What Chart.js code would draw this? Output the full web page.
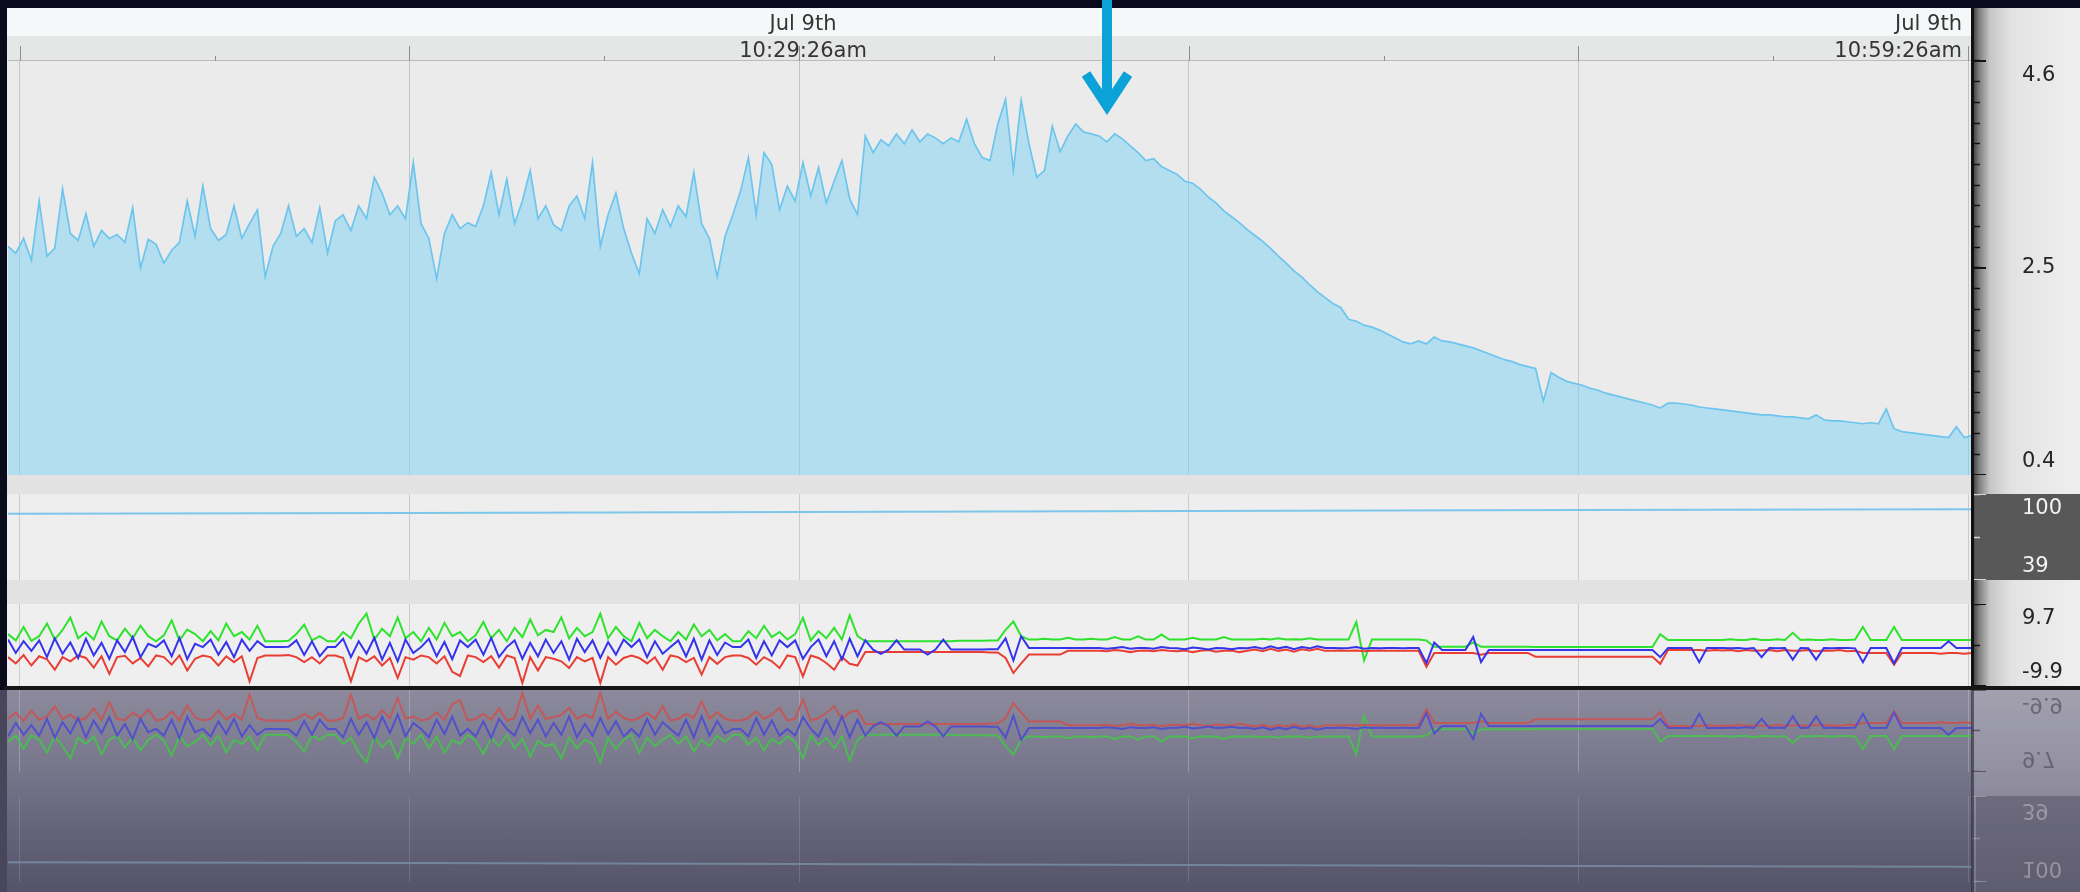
<!DOCTYPE html>
<html>
<head>
<meta charset="utf-8">
<script src="https://cdn.jsdelivr.net/npm/chart.js@4.4.0/dist/chart.umd.min.js"></script>
<style>
  body { margin: 0; width: 2080px; height: 892px; overflow: hidden; position: relative; background: #090a1c; font-family: "DejaVu Sans", sans-serif; }
  .abs { position: absolute; }
  canvas.flip { transform: scaleY(-1); }
</style>
</head>
<body>
<!-- panel backgrounds -->
<div class="abs" style="left:7px;top:8px;width:1965px;height:28px;background:#f5f8f9"></div>
<div class="abs" style="left:7px;top:36px;width:1965px;height:25px;background:#e5e6e6"></div>
<div class="abs" style="left:7px;top:61px;width:1965px;height:414px;background:#ebebeb"></div>
<div class="abs" style="left:7px;top:475px;width:1965px;height:19px;background:#e2e2e2"></div>
<div class="abs" style="left:7px;top:494px;width:1965px;height:86px;background:#eeeeee"></div>
<div class="abs" style="left:7px;top:580px;width:1965px;height:24px;background:#e2e2e2"></div>
<div class="abs" style="left:7px;top:604px;width:1965px;height:82px;background:#efefef"></div>
<div class="abs" style="left:1972px;top:8px;width:108px;height:678px;background:linear-gradient(to right,#333 0px,#7e7e7e 7px,#c6c6c6 18px,#e3e3e3 40px,#efefef 108px)"></div>
<div class="abs" style="left:1976px;top:494px;width:104px;height:86px;background:#585858"></div>

<!-- reflection floor -->
<div class="abs" style="left:0;top:690px;width:2080px;height:202px;background:linear-gradient(to bottom,#8c8a9c 0%,#7a788d 35%,#65637a 70%,#55536a 100%)"></div>
<div class="abs" style="left:0;top:690px;width:7px;height:202px;background:#47465a"></div>
<div class="abs" style="left:1972px;top:690px;width:108px;height:202px;background:rgba(255,255,255,0.2)"></div>
<div class="abs" style="left:1976px;top:796px;width:104px;height:96px;background:rgba(40,38,55,0.3)"></div>

<canvas id="mainChart" class="abs" width="2073" height="467" style="left:7px;top:8px"></canvas>
<canvas id="levelChart" class="abs" width="2073" height="86" style="left:7px;top:494px"></canvas>
<canvas id="accelChart" class="abs" width="2073" height="82" style="left:7px;top:604px"></canvas>
<canvas id="accelMirror" class="abs flip" width="2073" height="82" style="left:7px;top:690px;opacity:0.62"></canvas>
<canvas id="levelMirror" class="abs flip" width="2073" height="86" style="left:7px;top:796px;opacity:0.35"></canvas>

<div class="abs" style="left:1971px;top:8px;width:3px;height:678px;background:#111"></div>
<div class="abs" style="left:1971px;top:690px;width:3px;height:202px;background:rgba(30,30,45,0.55)"></div>
<div class="abs" style="left:4px;top:686px;width:2076px;height:4px;background:#161616"></div>

<svg class="abs" style="left:1077px;top:0" width="60" height="125">
  <line x1="30" y1="0" x2="30" y2="104" stroke="#0ba2d8" stroke-width="10"/>
  <polyline points="9,74 30,106 51,74" fill="none" stroke="#0ba2d8" stroke-width="10" stroke-linejoin="miter"/>
</svg>

<script>
// minutes after 10:09:26am, one sample every 0.2 min
const startMinute = -0.3;
const stepMinute = 0.2;
const endMinute = 50.1;

const gridMinutes = [0, 5, 10, 15, 20, 25, 30, 35, 40, 45, 50];
const timeLabelMinutes = [20, 50];
const timeLabelLines = [["Jul 9th", "10:29:26am"], ["Jul 9th", "10:59:26am"]];

const mainLabels = ["0.4", "2.5", "4.6"];
const levelLabels = ["39", "100"];
const accelLabels = ["-9.9", "9.7"];

const mainValues = [
  2.72, 2.65, 2.80, 2.58, 3.18, 2.62, 2.70, 3.30, 2.85, 2.78,
  3.05, 2.72, 2.88, 2.80, 2.84, 2.76, 3.11, 2.50, 2.79, 2.74,
  2.55, 2.68, 2.76, 3.18, 2.82, 3.33, 2.90, 2.78, 2.84, 3.13,
  2.80, 2.95, 3.09, 2.41, 2.72, 2.85, 3.13, 2.82, 2.90, 2.76,
  3.11, 2.65, 2.98, 3.04, 2.88, 3.13, 3.00, 3.42, 3.26, 3.04,
  3.13, 3.00, 3.57, 2.95, 2.80, 2.39, 2.85, 3.04, 2.90, 2.96,
  2.92, 3.13, 3.47, 3.04, 3.40, 2.95, 3.18, 3.49, 3.00, 3.13,
  2.94, 2.88, 3.13, 3.23, 3.00, 3.57, 2.72, 3.04, 3.26, 2.90,
  2.65, 2.44, 3.00, 2.85, 3.09, 2.92, 3.13, 3.02, 3.47, 2.95,
  2.80, 2.41, 2.82, 3.04, 3.28, 3.62, 3.04, 3.67, 3.55, 3.09,
  3.33, 3.18, 3.57, 3.23, 3.52, 3.16, 3.38, 3.59, 3.20, 3.04,
  3.84, 3.67, 3.80, 3.74, 3.86, 3.76, 3.90, 3.78, 3.86, 3.82,
  3.76, 3.82, 3.78, 4.01, 3.76, 3.62, 3.59, 3.96, 4.21, 3.49,
  4.20, 3.76, 3.42, 3.49, 3.94, 3.68, 3.84, 3.96, 3.88, 3.86,
  3.84, 3.78, 3.86, 3.81, 3.74, 3.67, 3.59, 3.61, 3.53, 3.49,
  3.45, 3.38, 3.36, 3.30, 3.22, 3.16, 3.08, 3.02, 2.96, 2.89,
  2.83, 2.77, 2.70, 2.62, 2.55, 2.47, 2.41, 2.33, 2.26, 2.20,
  2.14, 2.10, 1.98, 1.96, 1.92, 1.90, 1.87, 1.83, 1.79, 1.75,
  1.73, 1.76, 1.73, 1.80, 1.76, 1.75, 1.73, 1.71, 1.69, 1.66,
  1.63, 1.60, 1.57, 1.55, 1.52, 1.50, 1.48, 1.15, 1.44, 1.39,
  1.35, 1.33, 1.31, 1.28, 1.26, 1.23, 1.21, 1.19, 1.17, 1.15,
  1.13, 1.11, 1.08, 1.13, 1.13, 1.12, 1.11, 1.09, 1.08, 1.07,
  1.06, 1.05, 1.04, 1.03, 1.02, 1.01, 1.01, 1.00, 0.99, 0.99,
  0.98, 0.97, 1.01, 0.96, 0.95, 0.95, 0.94, 0.93, 0.92, 0.93,
  0.92, 1.07, 0.87, 0.84, 0.83, 0.82, 0.81, 0.80, 0.79, 0.78,
  0.89, 0.78, 0.80
];

// middle strip, nearly flat
const levelMinutes = [-0.3, 10, 20, 30, 40, 50.1];
const levelValues = [86.0, 86.6, 87.3, 88.0, 88.6, 89.2];

const greenValues = [
  2.5, 1.0, 4.2, 0.9, 2.0, 5.0, 1.2, 3.5, 6.5, 1.5,
  3.0, 1.2, 5.5, 2.0, 1.0, 3.8, 1.5, 4.5, 2.0, 0.8,
  2.2, 5.8, 1.0, 3.6, 2.5, 0.8, 3.2, 1.0, 5.0, 2.0,
  3.0, 1.2, 4.5, 0.8, 0.8, 0.8, 0.9, 2.5, 4.8, 1.0,
  2.0, 0.8, 0.8, 3.0, 1.5, 5.0, 7.4, 1.2, 3.8, 2.0,
  6.5, 1.5, 3.0, 0.8, 4.0, 1.2, 5.2, 2.0, 3.0, 0.8,
  2.2, 5.4, 1.5, 3.5, 0.8, 4.0, 1.8, 6.0, 2.2, 3.5,
  3.0, 6.5, 1.5, 4.0, 2.0, 3.0, 7.4, 1.5, 4.2, 2.0,
  0.8, 5.2, 1.5, 3.5, 2.0, 0.8, 3.0, 1.2, 4.8, 2.0,
  3.5, 1.0, 2.5, 0.8, 0.8, 3.2, 1.5, 4.5, 1.8, 3.0,
  1.2, 2.5, 6.4, 1.0, 3.2, 1.5, 4.0, 1.2, 7.0, 2.0,
  0.8, 0.8, 0.8, 0.8, 0.8, 0.8, 0.8, 0.8, 0.8, 0.8,
  0.8, 0.8, 0.9, 0.9, 0.9, 0.9, 1.0, 1.0, 3.5, 5.5,
  2.0, 1.2, 1.2, 1.4, 1.2, 1.2, 1.6, 1.2, 1.2, 1.4,
  1.2, 1.2, 1.8, 1.2, 1.2, 2.0, 1.2, 1.2, 2.4, 1.2,
  1.2, 1.2, 1.6, 1.2, 1.2, 1.2, 1.8, 1.2, 1.2, 1.2,
  1.2, 1.4, 1.2, 1.5, 1.2, 1.3, 1.2, 1.5, 1.2, 1.2,
  1.2, 1.2, 1.2, 5.4, -3.8, 1.2, 1.2, 1.2, 1.2, 1.2,
  1.2, 1.2, 1.0, -0.5, -0.5, -0.5, -0.5, -0.5, 0.5, -0.5,
  -0.5, -0.5, -0.5, -0.5, -0.5, -0.5, -0.6, -0.6, -0.6, -0.6,
  -0.6, -0.6, -0.6, -0.6, -0.6, -0.6, -0.6, -0.6, -0.6, -0.6,
  -0.6, -0.6, 2.5, 1.1, 1.1, 1.1, 1.1, 1.1, 1.1, 1.1,
  1.1, 1.3, 1.1, 1.1, 1.4, 1.1, 1.1, 1.3, 1.1, 2.8,
  1.1, 1.2, 1.1, 1.1, 1.3, 1.1, 1.1, 1.2, 4.2, 1.1,
  1.1, 1.1, 4.2, 1.1, 1.1, 1.1, 1.1, 1.1, 1.1, 1.1,
  1.1, 1.1, 1.1
];

const blueValues = [
  1.2, -2.0, 0.8, -1.5, 1.0, -3.0, 1.5, -2.2, 0.5, -3.2,
  1.4, -2.6, 0.4, -3.4, 1.0, -1.8, 1.8, -3.0, 0.2, -0.6,
  1.0, -2.8, 1.6, -3.5, 0.2, -0.6, 1.2, -2.4, 0.6, -3.0,
  1.2, -1.5, 0.8, -0.6, -0.6, -0.6, -0.5, 1.0, -2.5, 0.8,
  -2.8, -0.6, -0.6, 1.4, -3.0, 0.8, -2.2, 1.6, -3.6, 0.4,
  -4.0, 1.2, -2.0, -0.6, 1.4, -2.8, 0.6, -3.5, 1.0, -0.6,
  1.2, -2.4, 1.6, -3.0, -0.6, 1.0, -3.4, 0.4, -2.8, 1.2,
  -2.0, 0.8, -3.6, 1.4, -1.8, 1.0, -3.2, 0.6, -2.4, 1.2,
  -0.6, 1.2, -3.0, 0.8, -2.2, -0.6, 1.0, -2.8, 1.4, -3.6,
  1.0, -2.5, 0.5, -0.6, -0.6, 1.2, -3.2, 0.8, -2.6, 1.0,
  -0.6, 1.0, -3.4, -0.6, 1.2, -2.8, 0.8, -3.6, 1.4, -2.8,
  1.0, -1.2, -2.2, -1.2, 1.0, -1.2, -1.2, -1.2, -2.4, -1.2,
  1.2, -1.2, -1.2, -1.2, -1.2, -1.2, -1.1, -1.1, 1.5, -3.8,
  2.0, -0.8, -0.8, -0.8, -0.8, -0.8, -0.8, -0.8, -0.8, -0.8,
  -0.8, -1.0, -0.8, -0.6, -1.0, -0.8, -0.8, -1.0, -0.6, -0.8,
  -0.9, -1.1, -0.7, -0.9, -1.2, -0.8, -0.9, -1.1, -0.8, -0.9,
  -0.6, -1.0, -0.4, -0.9, -0.5, -1.1, -0.6, -0.9, -0.4, -0.8,
  -0.8, -0.9, -0.8, -0.6, -1.0, -0.8, -0.9, -0.8, -0.8, -0.9,
  -0.8, -0.8, -4.4, 0.5, -1.3, -1.3, -1.3, -1.3, 1.8, -4.2,
  -1.3, -1.3, -1.3, -1.3, -1.3, -1.3, -1.3, -1.3, -1.3, -1.3,
  -1.3, -1.3, -1.3, -1.3, -1.3, -1.3, -1.3, -1.3, -1.3, -1.3,
  -1.3, -1.3, -3.0, -0.8, -0.8, -0.8, -0.8, -4.2, -0.8, -0.8,
  -0.8, -0.9, -0.8, -1.0, -0.8, -3.0, -0.8, -0.9, -0.8, -3.6,
  -0.8, -0.9, -3.6, -0.8, -0.9, -0.8, -0.8, -0.9, -4.2, -0.8,
  -0.8, -0.8, -4.5, -0.8, -0.8, -0.8, -0.8, -0.8, -0.8, 0.8,
  -0.8, -0.8, -0.8
];

const redValues = [
  -3.0, -4.5, -2.5, -5.0, -2.8, -3.5, -6.0, -3.0, -4.0, -2.6,
  -3.2, -5.5, -2.8, -7.0, -3.0, -2.7, -4.5, -3.2, -5.2, -2.6,
  -3.0, -4.8, -2.6, -6.2, -3.4, -2.6, -3.0, -5.0, -2.8, -4.2,
  -2.8, -8.8, -3.2, -2.6, -2.6, -2.6, -2.5, -3.0, -4.2, -3.0,
  -4.5, -2.6, -2.6, -3.2, -8.8, -3.0, -4.0, -2.8, -5.0, -3.2,
  -8.0, -3.0, -3.6, -2.6, -3.0, -4.5, -2.8, -6.5, -7.5, -2.6,
  -3.0, -4.2, -2.8, -5.5, -2.6, -3.2, -9.2, -3.0, -6.2, -3.0,
  -3.4, -4.0, -5.6, -3.0, -4.0, -3.2, -9.2, -3.0, -4.8, -3.2,
  -2.6, -3.2, -4.5, -3.0, -6.0, -2.6, -3.0, -4.2, -3.2, -7.2,
  -3.0, -4.6, -3.0, -2.6, -2.6, -3.2, -4.8, -3.0, -4.0, -5.6,
  -2.6, -3.0, -7.6, -2.6, -3.2, -4.4, -6.0, -3.0, -4.6, -5.0,
  -1.8, -1.8, -1.8, -1.8, -1.8, -1.8, -1.8, -1.8, -1.8, -1.8,
  -1.8, -1.8, -1.8, -1.8, -1.8, -1.8, -1.9, -1.9, -3.2, -6.8,
  -4.5, -2.4, -2.4, -2.4, -2.4, -2.4, -1.5, -1.5, -1.5, -1.5,
  -1.5, -1.6, -1.3, -1.5, -1.8, -1.5, -1.4, -1.6, -1.3, -1.5,
  -1.6, -1.4, -1.8, -1.5, -1.3, -1.7, -1.5, -1.4, -1.8, -1.5,
  -1.2, -1.6, -1.0, -1.5, -1.2, -1.7, -1.1, -1.4, -1.0, -1.5,
  -1.5, -1.4, -1.5, -1.4, -1.6, -1.5, -1.4, -1.5, -1.5, -1.5,
  -1.5, -1.5, -5.3, -2.0, -2.0, -2.0, -2.0, -2.0, -2.0, -2.4,
  -2.0, -2.0, -2.0, -2.0, -2.0, -2.0, -2.9, -2.9, -2.9, -2.9,
  -2.9, -2.9, -2.9, -2.9, -2.9, -2.9, -2.9, -2.9, -2.9, -2.9,
  -2.9, -2.9, -4.6, -1.3, -1.3, -1.3, -1.3, -1.3, -1.5, -1.3,
  -1.4, -1.3, -1.6, -1.3, -1.5, -1.4, -1.3, -1.6, -1.3, -1.5,
  -1.5, -1.3, -1.6, -1.4, -1.5, -1.3, -1.6, -1.5, -2.0, -2.0,
  -2.0, -2.0, -4.8, -2.0, -2.0, -2.0, -2.0, -2.0, -2.2, -2.0,
  -2.0, -2.2, -2.0
];

const toPoints = values => values.map((v, i) => ({ x: startMinute + stepMinute * i, y: v }));

// right-hand value labels, tucked inside the panel at the ends
const sideLabels = {
  id: "sideLabels",
  afterDraw(chart, args, opts) {
    const { ctx, chartArea } = chart;
    const y = chart.scales.y;
    ctx.save();
    ctx.font = '21px "DejaVu Sans"';
    ctx.textAlign = "left";
    ctx.textBaseline = "middle";
    (opts.labels || []).forEach((text) => {
      const value = Number(text);
      let py = y.getPixelForValue(value);
      if (value === y.max) py += 15;
      else if (value === y.min) py -= 13;
      // longer tick for labelled values
      ctx.strokeStyle = opts.tick;
      ctx.lineWidth = 2;
      ctx.beginPath();
      const ty = Math.round(y.getPixelForValue(value));
      ctx.moveTo(chartArea.right, ty);
      ctx.lineTo(chartArea.right + 14, ty);
      ctx.stroke();
      ctx.fillStyle = opts.color;
      ctx.fillText(text, chartArea.right + 50, py);
    });
    ctx.restore();
  },
};

// date/time header above the main panel
const timeHeader = {
  id: "timeHeader",
  afterDraw(chart) {
    const { ctx, chartArea } = chart;
    const x = chart.scales.x;
    ctx.save();
    ctx.strokeStyle = "#bcbcbc";
    ctx.lineWidth = 1;
    ctx.beginPath();
    ctx.moveTo(chartArea.left, chartArea.top - 0.5);
    ctx.lineTo(chartArea.right, chartArea.top - 0.5);
    ctx.stroke();
    ctx.strokeStyle = "#8e8e8e";
    gridMinutes.forEach((m) => {
      const px = Math.round(x.getPixelForValue(m)) + 0.5;
      const len = m % 10 === 0 ? 15 : 5;
      ctx.beginPath();
      ctx.moveTo(px, chartArea.top);
      ctx.lineTo(px, chartArea.top - len);
      ctx.stroke();
    });
    ctx.font = '21px "DejaVu Sans"';
    ctx.fillStyle = "#353535";
    ctx.textBaseline = "middle";
    timeLabelMinutes.forEach((m, k) => {
      const atEnd = m >= endMinute - 1;
      ctx.textAlign = atEnd ? "right" : "center";
      const tx = atEnd ? chartArea.right - 10 : x.getPixelForValue(m) + 4;
      ctx.fillText(timeLabelLines[k][0], tx, 17);
      ctx.fillText(timeLabelLines[k][1], tx, 44);
    });
    ctx.restore();
  },
};

function xScale(gridColor, height) {
  return {
    type: "linear",
    position: "top",
    min: startMinute,
    max: endMinute,
    afterBuildTicks: (s) => { s.ticks = gridMinutes.map((v) => ({ value: v })); },
    afterFit: (s) => { s.height = height; },
    grid: {
      color: (c) => (c.tick && c.tick.value % 10 === 0 ? gridColor : "rgba(0,0,0,0)"),
      drawTicks: false,
    },
    border: { display: false },
    ticks: { display: false },
  };
}

function yScale(min, max, tickValues, tickColor) {
  return {
    position: "right",
    min: min,
    max: max,
    afterBuildTicks: (s) => { s.ticks = tickValues.map((v) => ({ value: v })); },
    afterFit: (s) => { s.width = 108; },
    grid: { drawOnChartArea: false, drawTicks: true, tickLength: 8, tickColor: tickColor, tickWidth: 1.5 },
    border: { display: false },
    ticks: { display: false },
  };
}

function makeChart(id, datasets, x, y, labelOpts, extra) {
  return new Chart(document.getElementById(id), {
    type: "line",
    data: { datasets: datasets },
    options: {
      responsive: false,
      animation: false,
      events: [],
      layout: { padding: { left: 1, right: 0, top: 0, bottom: 0 } },
      elements: { point: { radius: 0 }, line: { tension: 0 } },
      plugins: {
        legend: { display: false },
        tooltip: { enabled: false },
        sideLabels: labelOpts,
      },
      scales: { x: x, y: y },
    },
    plugins: [sideLabels].concat(extra || []),
  });
}

const mainTickValues = Array.from({ length: 21 }, (_, k) => 0.4 + 0.21 * k);
const mainMin = Number(mainLabels[0]);
const mainMax = Number(mainLabels[2]);

makeChart(
  "mainChart",
  [{
    data: toPoints(mainValues),
    borderColor: "#6dc5ee",
    borderWidth: 1.7,
    backgroundColor: "rgba(123,209,245,0.5)",
    fill: "start",
  }],
  xScale("#c3c6c9", 53),
  yScale(mainMin, mainMax, mainTickValues, "#111"),
  { labels: mainLabels, color: "#262626", tick: "#111" },
  [timeHeader]
);

function levelSet(color) {
  return [{
    data: levelMinutes.map((m, i) => ({ x: m, y: levelValues[i] })),
    borderColor: color,
    borderWidth: 2,
    fill: false,
  }];
}

function accelSets(width) {
  return [
    { data: toPoints(blueValues), borderColor: "#3434ec", borderWidth: width, fill: false },
    { data: toPoints(redValues), borderColor: "#e83e34", borderWidth: width, fill: false },
    { data: toPoints(greenValues), borderColor: "#2ee22e", borderWidth: width, fill: false },
  ];
}

const levelMin = Number(levelLabels[0]);
const levelMax = Number(levelLabels[1]);
const accelMin = Number(accelLabels[0]);
const accelMax = Number(accelLabels[1]);

makeChart(
  "levelChart",
  levelSet("#7cc6ea"),
  xScale("#cbcbcb", 0),
  yScale(levelMin, levelMax, [levelMin, (levelMin + levelMax) / 2, levelMax], "#d8d8d8"),
  { labels: levelLabels, color: "#f2f2f2", tick: "#d8d8d8" }
);

makeChart(
  "accelChart",
  accelSets(2),
  xScale("#cbcbcb", 0),
  yScale(accelMin, accelMax, [accelMin, (accelMin + accelMax) / 2, accelMax], "#111"),
  { labels: accelLabels, color: "#262626", tick: "#111" }
);

// mirrored copies for the glossy floor reflection
makeChart(
  "accelMirror",
  accelSets(2),
  xScale("rgba(220,220,235,0.5)", 0),
  yScale(accelMin, accelMax, [accelMin, (accelMin + accelMax) / 2, accelMax], "#333"),
  { labels: accelLabels, color: "#4a4858", tick: "#333" }
);

makeChart(
  "levelMirror",
  levelSet("#9fd6f0"),
  xScale("rgba(220,220,235,0.5)", 0),
  yScale(levelMin, levelMax, [levelMin, (levelMin + levelMax) / 2, levelMax], "#ddd"),
  { labels: levelLabels, color: "#f2f2f2", tick: "#ddd" }
);
</script>
</body>
</html>
